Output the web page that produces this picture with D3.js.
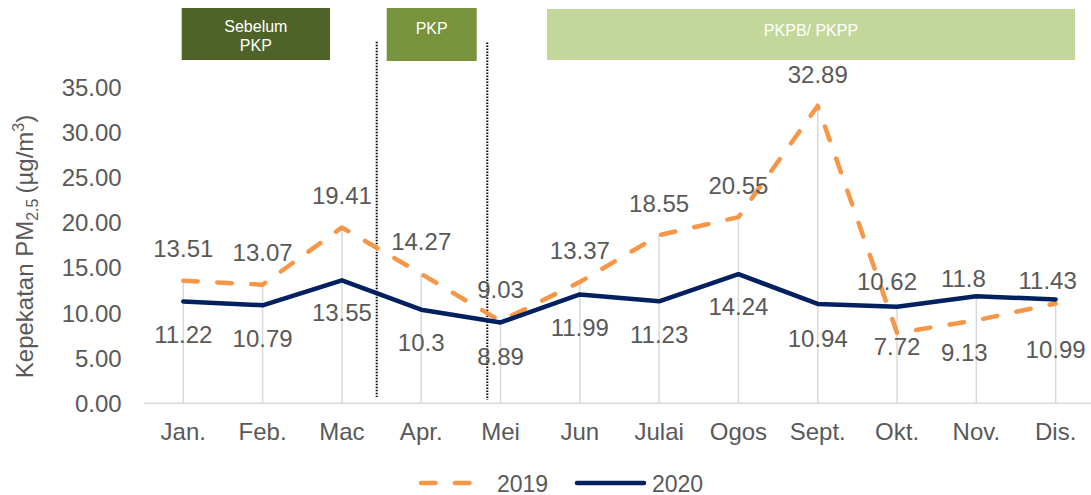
<!DOCTYPE html>
<html>
<head>
<meta charset="utf-8">
<script src="https://cdn.jsdelivr.net/npm/d3@7"></script>
<style>
  html, body { margin: 0; padding: 0; background: #ffffff; }
  svg { display: block; font-family: "Liberation Sans", Arial, sans-serif; }
</style>
</head>
<body>
<svg id="chart" width="1091" height="495"></svg>
<script>
// ---- data ----
const categories = ["Jan.", "Feb.", "Mac", "Apr.", "Mei", "Jun", "Julai", "Ogos", "Sept.", "Okt.", "Nov.", "Dis."];
const values2019 = [13.51, 13.07, 19.41, 14.27, 9.03, 13.37, 18.55, 20.55, 32.89, 7.72, 9.13, 10.99];
const values2020 = [11.22, 10.79, 13.55, 10.3, 8.89, 11.99, 11.23, 14.24, 10.94, 10.62, 11.8, 11.43];
const labels2019 = ["13.51", "13.07", "19.41", "14.27", "9.03", "13.37", "18.55", "20.55", "32.89", "7.72", "9.13", "10.99"];
const labels2020 = ["11.22", "10.79", "13.55", "10.3", "8.89", "11.99", "11.23", "14.24", "10.94", "10.62", "11.8", "11.43"];
const yTicks = [0, 5, 10, 15, 20, 25, 30, 35];
const seriesNames = ["2019", "2020"];
const phaseNames = [["Sebelum", "PKP"], ["PKP"], ["PKPB/ PKPP"]];

// ---- layout (label placement, not data) ----
const labelDy2019 = [-32, -32, -32, -32, -32, -32, -32, -32, -31, 13, 32, 46];
const labelDx2019 = [0, 0, 0, 0, 0, 0, 0, 0, 0, 0, -12, 0];
const labelDy2020 = [33, 33, 32, 33, 34, 33, 33, 32, 34, -25, -18, -19];
const labelDx2020 = [0, 0, 0, 0, 0, 0, 0, 0, 0, -10, -13, -8];

const C2019 = "#f79646", C2020 = "#002060", TXT = "#595959";

const svg = d3.select("#chart");
const x = d3.scaleBand().domain(categories).range([143.65, 1095.3]).padding(0);
const cx = c => x(c) + x.bandwidth() / 2;
const y = d3.scaleLinear().domain([0, 35]).range([402.7, 86.7]);

// phase boxes
const boxes = [
  {x0: 181.7, x1: 330, y0: 8, y1: 60, fill: "#4f6228", lines: phaseNames[0], ty: [32.4, 51.4]},
  {x0: 386.7, x1: 476.7, y0: 8, y1: 61, fill: "#77933c", lines: phaseNames[1], ty: [33.7]},
  {x0: 547, x1: 1075, y0: 9, y1: 60, fill: "#c4d79b", lines: phaseNames[2], ty: [35.7]}
];
boxes.forEach(b => {
  svg.append("rect").attr("x", b.x0).attr("y", b.y0).attr("width", b.x1 - b.x0).attr("height", b.y1 - b.y0).attr("fill", b.fill);
  b.lines.forEach((t, i) => {
    svg.append("text").attr("x", (b.x0 + b.x1) / 2).attr("y", b.ty[i]).attr("text-anchor", "middle")
      .attr("font-size", 16).attr("fill", "#ffffff").text(t);
  });
});

// drop lines
svg.append("g").selectAll("line").data(categories).join("line")
  .attr("x1", d => cx(d)).attr("x2", d => cx(d))
  .attr("y1", (d, i) => y(Math.max(values2019[i], values2020[i])))
  .attr("y2", y(0))
  .attr("stroke", "#d9d9d9").attr("stroke-width", 1.5);

// y axis (labels only)
const gy = svg.append("g").attr("transform", "translate(121.7,0)")
  .call(d3.axisLeft(y).tickValues(yTicks).tickFormat(d3.format(".2f")).tickSize(0).tickPadding(0));
gy.select(".domain").remove();
gy.selectAll("text").attr("font-family", "Liberation Sans, Arial, sans-serif").attr("font-size", 24).attr("fill", TXT)
  .attr("x", 0).attr("dy", null).attr("y", 8.6);

// x axis
const gx = svg.append("g").attr("transform", `translate(0,${y(0)})`)
  .call(d3.axisBottom(x).tickSize(0).tickSizeOuter(0));
gx.select(".domain").attr("stroke", "#d9d9d9").attr("stroke-width", 1.5);
gx.selectAll("text").attr("font-family", "Liberation Sans, Arial, sans-serif").attr("font-size", 24).attr("fill", TXT)
  .attr("dy", null).attr("y", 37.3);

// y axis title
const title = svg.append("text").attr("transform", "translate(33,246.5) rotate(-90)")
  .attr("text-anchor", "middle").attr("font-size", 24).attr("fill", TXT);
title.append("tspan").text("Kepekatan PM");
title.append("tspan").attr("font-size", 16).attr("dy", 5).text("2.5");
title.append("tspan").attr("dy", -5).attr("dx", 5).text("(µg/m");
title.append("tspan").attr("font-size", 16).attr("dy", -9).text("3");
title.append("tspan").attr("dy", 9).text(")");

// dotted phase separators
[[376.7, 41.7, 397], [487.3, 42.5, 400]].forEach(d => {
  svg.append("line").attr("x1", d[0]).attr("x2", d[0]).attr("y1", d[1]).attr("y2", d[2])
    .attr("stroke", "#000").attr("stroke-width", 2).attr("stroke-dasharray", "1.5,1.5");
});

// lines
const line = d3.line().x((d, i) => cx(categories[i])).y(d => y(d));
svg.append("path").datum(values2019).attr("d", line).attr("fill", "none")
  .attr("stroke", C2019).attr("stroke-width", 4.5).attr("stroke-dasharray", "14.5,19.5")
  .attr("stroke-linecap", "round").attr("stroke-linejoin", "round");
svg.append("path").datum(values2020).attr("d", line).attr("fill", "none")
  .attr("stroke", C2020).attr("stroke-width", 4.5).attr("stroke-linejoin", "round").attr("stroke-linecap", "round");

// data labels
svg.append("g").selectAll("text").data(values2019).join("text")
  .attr("x", (d, i) => cx(categories[i]) + labelDx2019[i])
  .attr("y", (d, i) => y(d) + labelDy2019[i] + 8.6)
  .attr("text-anchor", "middle").attr("font-size", 24).attr("fill", TXT)
  .text((d, i) => labels2019[i]);
svg.append("g").selectAll("text").data(values2020).join("text")
  .attr("x", (d, i) => cx(categories[i]) + labelDx2020[i])
  .attr("y", (d, i) => y(d) + labelDy2020[i] + 8.6)
  .attr("text-anchor", "middle").attr("font-size", 24).attr("fill", TXT)
  .text((d, i) => labels2020[i]);

// legend
const lg = svg.append("g");
lg.append("line").attr("x1", 421).attr("x2", 470).attr("y1", 483).attr("y2", 483)
  .attr("stroke", C2019).attr("stroke-width", 4.5).attr("stroke-dasharray", "14.5,19.5").attr("stroke-linecap", "round");
lg.append("text").attr("x", 497).attr("y", 491.5).attr("font-size", 23).attr("fill", TXT).text(seriesNames[0]);
lg.append("line").attr("x1", 577).attr("x2", 644).attr("y1", 483).attr("y2", 483)
  .attr("stroke", C2020).attr("stroke-width", 4.5).attr("stroke-linecap", "round");
lg.append("text").attr("x", 652).attr("y", 491.5).attr("font-size", 23).attr("fill", TXT).text(seriesNames[1]);
</script>
</body>
</html>
